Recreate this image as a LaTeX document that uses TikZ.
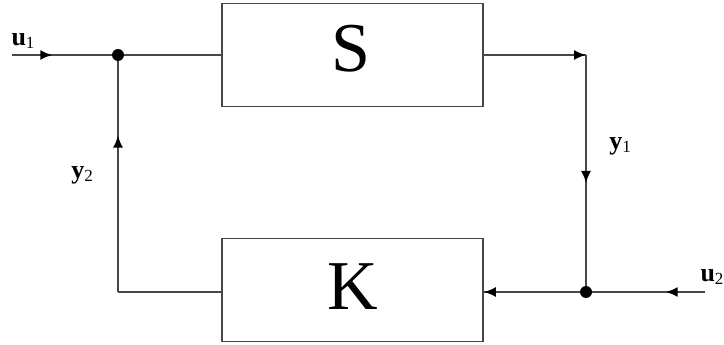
\documentclass[tikz,border=0pt]{standalone}
\usepackage{fontspec}
\setmainfont{Liberation Serif}
\usetikzlibrary{arrows.meta,decorations.markings}
\newcommand{\lbl}[2]{\textbf{#1}\raisebox{-0.3ex}{\fontsize{17}{17}\selectfont #2}}
\begin{document}
\begin{tikzpicture}[x=1pt,y=-1pt,
  wire/.style={draw=black!72,line width=1.7pt},
  blockbox/.style={draw=black!72,line width=1.8pt,minimum width=261pt,minimum height=103pt,inner sep=0pt},
  bigtext/.style={font=\fontsize{70}{70}\selectfont},
  sig/.style={font=\fontsize{26}{26}\selectfont,inner sep=0pt},
  dot/.style={circle,fill=black,inner sep=0pt,minimum size=12pt},
  arr/.style={postaction={decorate},decoration={markings,mark=at position #1 with {\arrow[black]{Latex[length=12pt,width=10pt]}}}}
]
\useasboundingbox (0,0) rectangle (724,345);
\node[blockbox] (S) at (352.5,55) {};
\node[blockbox] (K) at (352.5,290) {};
\node[bigtext] (St) at (351,49) {S};
\node[bigtext] (Kt) at (353,287) {K};
\coordinate (j1) at (118,55);
\coordinate (j2) at (586,292);
\coordinate (in1) at (12,55);
\coordinate (in2) at (705,292);
\coordinate (c1) at (586,55);
\coordinate (c2) at (118,292);
% u1 input
\draw[wire,arr=0.38] (in1) -- (j1);
\draw[wire] (j1) -- (S.west);
% S output to corner
\draw[wire,arr=1] (S.east) -- (c1);
\draw[wire,arr=0.54] (c1) -- (j2);
% u2 input
\draw[wire,arr=0.33] (in2) -- (j2);
\draw[wire,arr=1] (j2) -- (K.east |- j2);
% feedback
\draw[wire] (K.west |- c2) -- (c2);
\draw[wire,arr=0.66] (c2) -- (j1);
% junction dots
\node[dot] (d1) at (j1) {};
\node[dot] (d2) at (j2) {};
% labels
\node[sig] (u1) at (23,41) {\lbl{u}{1}};
\node[sig] (y1) at (620,146) {\lbl{y}{1}};
\node[sig] (y2) at (82,175) {\lbl{y}{2}};
\node[sig] (u2) at (712,277) {\lbl{u}{2}};
\end{tikzpicture}
\end{document}
